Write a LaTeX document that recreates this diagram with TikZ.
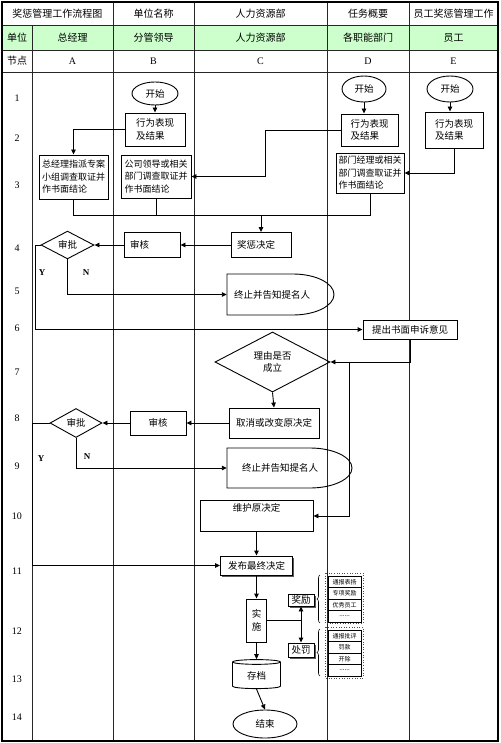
\documentclass[tikz,border=0pt]{standalone}
\usepackage{fontspec}
\setmainfont{Liberation Serif}
\newfontfamily\cjk{Noto Sans CJK SC}
\usetikzlibrary{arrows.meta,shapes.geometric,shadows,decorations.pathreplacing}
\definecolor{hdgreen}{RGB}{204,255,204}
\newcommand{\zhf}{\cjk\fontsize{9.5}{12.5}\selectfont}
\newcommand{\zhs}{\cjk\fontsize{9}{12.5}\selectfont}
\newcommand{\hdf}{\cjk\fontsize{10}{12}\selectfont}
\newcommand{\smf}{\cjk\fontsize{6}{7}\selectfont}
\begin{document}
\begin{tikzpicture}[x=1pt,y=-1pt,
  gridline/.style={line width=0.7pt,black!85},
  flow/.style={line width=0.9pt},
  arr/.style={flow,-{Triangle[length=5pt,width=4.5pt]}},
  dblarr/.style={flow,{Triangle[length=5pt,width=4.5pt]}-{Triangle[length=5pt,width=4.5pt]}},
  hd/.style={font=\hdf,inner sep=0pt},
  num/.style={font=\fontsize{10}{12}\selectfont,inner sep=0pt},
  box/.style={draw,line width=0.9pt,fill=white,rectangle,inner sep=1pt,font=\zhf,align=left},
  oval/.style={draw,line width=0.9pt,ellipse,inner sep=0pt,font=\zhf},
  dia/.style={draw,line width=0.9pt,diamond,inner sep=0pt,font=\zhf,align=center},
  shd/.style={drop shadow={shadow xshift=1.5pt,shadow yshift=-1.5pt,fill=black!65,opacity=1}},
  item/.style={draw,line width=0.8pt,fill=white,rectangle,inner sep=0pt,minimum width=33pt,minimum height=11.5pt,font=\smf},
  yn/.style={font=\bfseries\fontsize{9}{10}\selectfont,inner sep=0pt},
  shapeline/.style={draw,line width=0.9pt}
]
\useasboundingbox (0,0) rectangle (500,743);
% ---------- table ----------
\fill[hdgreen] (2,25) rectangle (498,50);
\draw[gridline] (2,25) -- (498,25) (2,50) -- (498,50) (2,72) -- (498,72);
\draw[gridline] (32,25) -- (32,741) (113,2) -- (113,741) (194,2) -- (194,741)
  (327,2) -- (327,741) (409,2) -- (409,741);
\draw[line width=1.3pt] (2,2) rectangle (498,741);
\node[hd] (h1) at (57.5,14) {奖惩管理工作流程图};
\node[hd] (h2) at (153.5,14) {单位名称};
\node[hd] (h3) at (260.5,14) {人力资源部};
\node[hd] (h4) at (368,14) {任务概要};
\node[hd] (h5) at (453.5,14) {员工奖惩管理工作};
\node[hd] (u0) at (17,38) {单位};
\node[hd] (u1) at (72.5,38) {总经理};
\node[hd] (u2) at (153.5,38) {分管领导};
\node[hd] (u3) at (260.5,38) {人力资源部};
\node[hd] (u4) at (368,38) {各职能部门};
\node[hd] (u5) at (453.5,38) {员工};
\node[hd] (n0) at (17,61) {节点};
\node[num] (nA) at (72.5,61) {A};
\node[num] (nB) at (153.5,61) {B};
\node[num] (nC) at (260.5,61) {C};
\node[num] (nD) at (368,61) {D};
\node[num] (nE) at (453.5,61) {E};
\node[num] (r1) at (17,98) {1};
\node[num] (r2) at (17,138) {2};
\node[num] (r3) at (17,185) {3};
\node[num] (r4) at (17,248) {4};
\node[num] (r5) at (17,291) {5};
\node[num] (r6) at (17,328) {6};
\node[num] (r7) at (17,372) {7};
\node[num] (r8) at (17,418) {8};
\node[num] (r9) at (17,466) {9};
\node[num] (r10) at (17,516) {10};
\node[num] (r11) at (17,571) {11};
\node[num] (r12) at (17,631) {12};
\node[num] (r13) at (17,679) {13};
\node[num] (r14) at (17,717) {14};
% ---------- flow nodes ----------
\node[oval,minimum width=46pt,minimum height=23pt] (startB) at (155,93.5) {开始};
\node[box,minimum width=60pt,minimum height=33pt] (actB) at (155,129.5) {行为表现\\及结果};
\node[oval,minimum width=44pt,minimum height=26pt] (startD) at (364,89) {开始};
\node[box,minimum width=57pt,minimum height=32pt] (actD) at (369.5,130) {行为表现\\及结果};
\node[oval,minimum width=46pt,minimum height=26pt] (startE) at (450,89) {开始};
\node[box,minimum width=58pt,minimum height=36pt] (actE) at (454,130) {行为表现\\及结果};
\node[box,font=\zhs,minimum width=69pt,minimum height=44pt] (taskA) at (73.5,177) {总经理指派专案\\小组调查取证并\\作书面结论};
\node[box,font=\zhs,minimum width=70pt,minimum height=43pt] (taskB) at (156,176.5) {公司领导或相关\\部门调查取证并\\作书面结论};
\node[box,font=\zhs,minimum width=68pt,minimum height=40pt] (taskD) at (370,173) {部门经理或相关\\部门调查取证并\\作书面结论};
\node[box,text width=48pt,inner xsep=6pt,minimum height=25pt] (decide) at (261,245) {奖惩决定};
\node[box,text width=44pt,inner xsep=6pt,minimum height=25pt] (review1) at (152,245) {审核};
\node[dia,minimum width=53pt,minimum height=27pt] (appr1) at (67.5,245) {审批};
% terminate shape 1
\node[inner sep=0pt,minimum width=90pt,minimum height=41pt,font=\zhf] (term1) at (272,294.5) {终止并告知提名人};
\draw[shapeline] (227,274) -- (293,274) .. controls (315.6,274) and (334,283.2) .. (334,294.5)
  .. controls (334,305.8) and (315.6,315) .. (293,315) -- (227,315) -- cycle;
\node[box,minimum width=94pt,minimum height=19pt,align=center] (appeal) at (410,329.5) {提出书面申诉意见};
\node[dia,minimum width=115pt,minimum height=60pt] (reason) at (272.5,362) {理由是否\\成立};
\node[box,minimum width=90pt,minimum height=30pt,align=center] (cancel) at (274,423) {取消或改变原决定};
\node[box,minimum width=56pt,minimum height=24pt,align=center] (review2) at (158,423) {审核};
\node[dia,minimum width=52pt,minimum height=29pt] (appr2) at (76,423) {审批};
% terminate shape 2
\node[inner sep=0pt,minimum width=106pt,minimum height=40pt,font=\zhf] (term2) at (280,468) {终止并告知提名人};
\draw[shapeline] (227,448) -- (310,448) .. controls (333.2,448) and (352,457) .. (352,468)
  .. controls (352,479) and (333.2,488) .. (310,488) -- (227,488) -- cycle;
\node[box,minimum width=113pt,text height=7pt,text depth=16pt,inner ysep=4pt,align=center] (maintain) at (256.5,516) {维护原决定};
\node[box,shd,minimum width=72pt,minimum height=19pt,align=center] (publish) at (256.5,565.5) {发布最终决定};
\node[box,minimum width=20pt,minimum height=43pt,align=center,inner sep=0pt] (impl) at (256.5,620.5) {实\\施};
\node[box,shd,minimum width=26pt,minimum height=12pt,inner sep=0pt,align=center] (award) at (301,600) {奖励};
\node[box,shd,minimum width=26pt,minimum height=14pt,inner sep=0pt,align=center] (punish) at (301,650) {处罚};
\node[draw,line width=0.9pt,cylinder,shape border rotate=90,aspect=0.25,minimum width=48pt,minimum height=29pt,inner sep=0pt,font=\zhf] (archive) at (256.5,675.5) {存档};
\node[oval,minimum width=64pt,minimum height=28pt] (endN) at (265,724) {结束};
% lists
\draw[dotted,line width=0.6pt,black!70] (325,573) rectangle (363,623);
\draw[dotted,line width=0.6pt,black!70] (325,627) rectangle (363,678);
\node[item] (a1) at (344.5,581.75) {通报表扬};
\node[item] (a2) at (344.5,593.25) {专项奖励};
\node[item] (a3) at (344.5,604.75) {优秀员工};
\node[item,font=\fontsize{7}{8}\selectfont] (a4) at (344.5,616.25) {......};
\node[item] (p1) at (344.5,635.75) {通报批评};
\node[item] (p2) at (344.5,647.25) {罚款};
\node[item] (p3) at (344.5,658.75) {开除};
\node[item,font=\fontsize{7}{8}\selectfont] (p4) at (344.5,670.25) {......};
\draw[line width=0.6pt,decorate,decoration={brace,amplitude=3pt}] (320,623) -- (320,575);
\draw[line width=0.6pt,decorate,decoration={brace,amplitude=3pt}] (320,676) -- (320,629);
% Y / N labels
\node[yn] (y1) at (42,273) {Y};
\node[yn] (n1) at (86,273) {N};
\node[yn] (y2) at (41,459) {Y};
\node[yn] (n2) at (87,457) {N};
% ---------- connectors ----------
\draw[arr] (startB) -- (actB);
\draw[arr] (actB.west) -| (taskA.north);
\coordinate (k1) at (265,0);
\draw[arr] (actD.west) -| (k1 |- taskB.east) -- (taskB.east);
\draw[arr] (startD.south) -- (startD.south |- actD.north);
\draw[arr] (startE.south) -- (startE.south |- actE.north);
\draw[arr] (actE.south) |- (taskD.east);
\coordinate (bus) at (0,215);
\draw[flow] (taskA.south) |- (taskD.south |- bus) -- (taskD.south);
\draw[flow] (taskB.south) -- (taskB.south |- bus);
\draw[arr] (decide.north |- bus) -- (decide.north);
\draw[arr] (decide.west) -- (review1.east);
\draw[arr] (review1.west) -- (appr1.east);
\coordinate (yl1) at (35,0);
\draw[arr] (appr1.west) -| (yl1 |- appeal.west) -- (appeal.west);
\draw[arr] (appr1.south) |- (term1.west);
\draw[arr] (appeal.south) |- (reason.east);
\coordinate (br) at (349,0);
\draw[arr] (br |- reason.east) |- (maintain.east);
\draw[arr] (reason.south) -- (cancel.north);
\draw[arr] (cancel.west) -- (review2.east);
\draw[arr] (review2.west) -- (appr2.east);
\coordinate (yl2) at (32,0);
\draw[arr] (appr2.west) -| (yl2 |- publish.west) -- (publish.west);
\draw[arr] (appr2.south) |- (term2.west);
\draw[arr] (maintain.south) -- (publish.north);
\draw[arr] (publish.south) -- (impl.north);
\draw[flow] (impl.east) -- (impl.east -| award.south);
\draw[dblarr] (award.south) -- (punish.north);
\draw[arr] (impl.south) -- (archive.north);
\draw[arr] (archive.south) -- (endN.north);
\end{tikzpicture}
\end{document}
